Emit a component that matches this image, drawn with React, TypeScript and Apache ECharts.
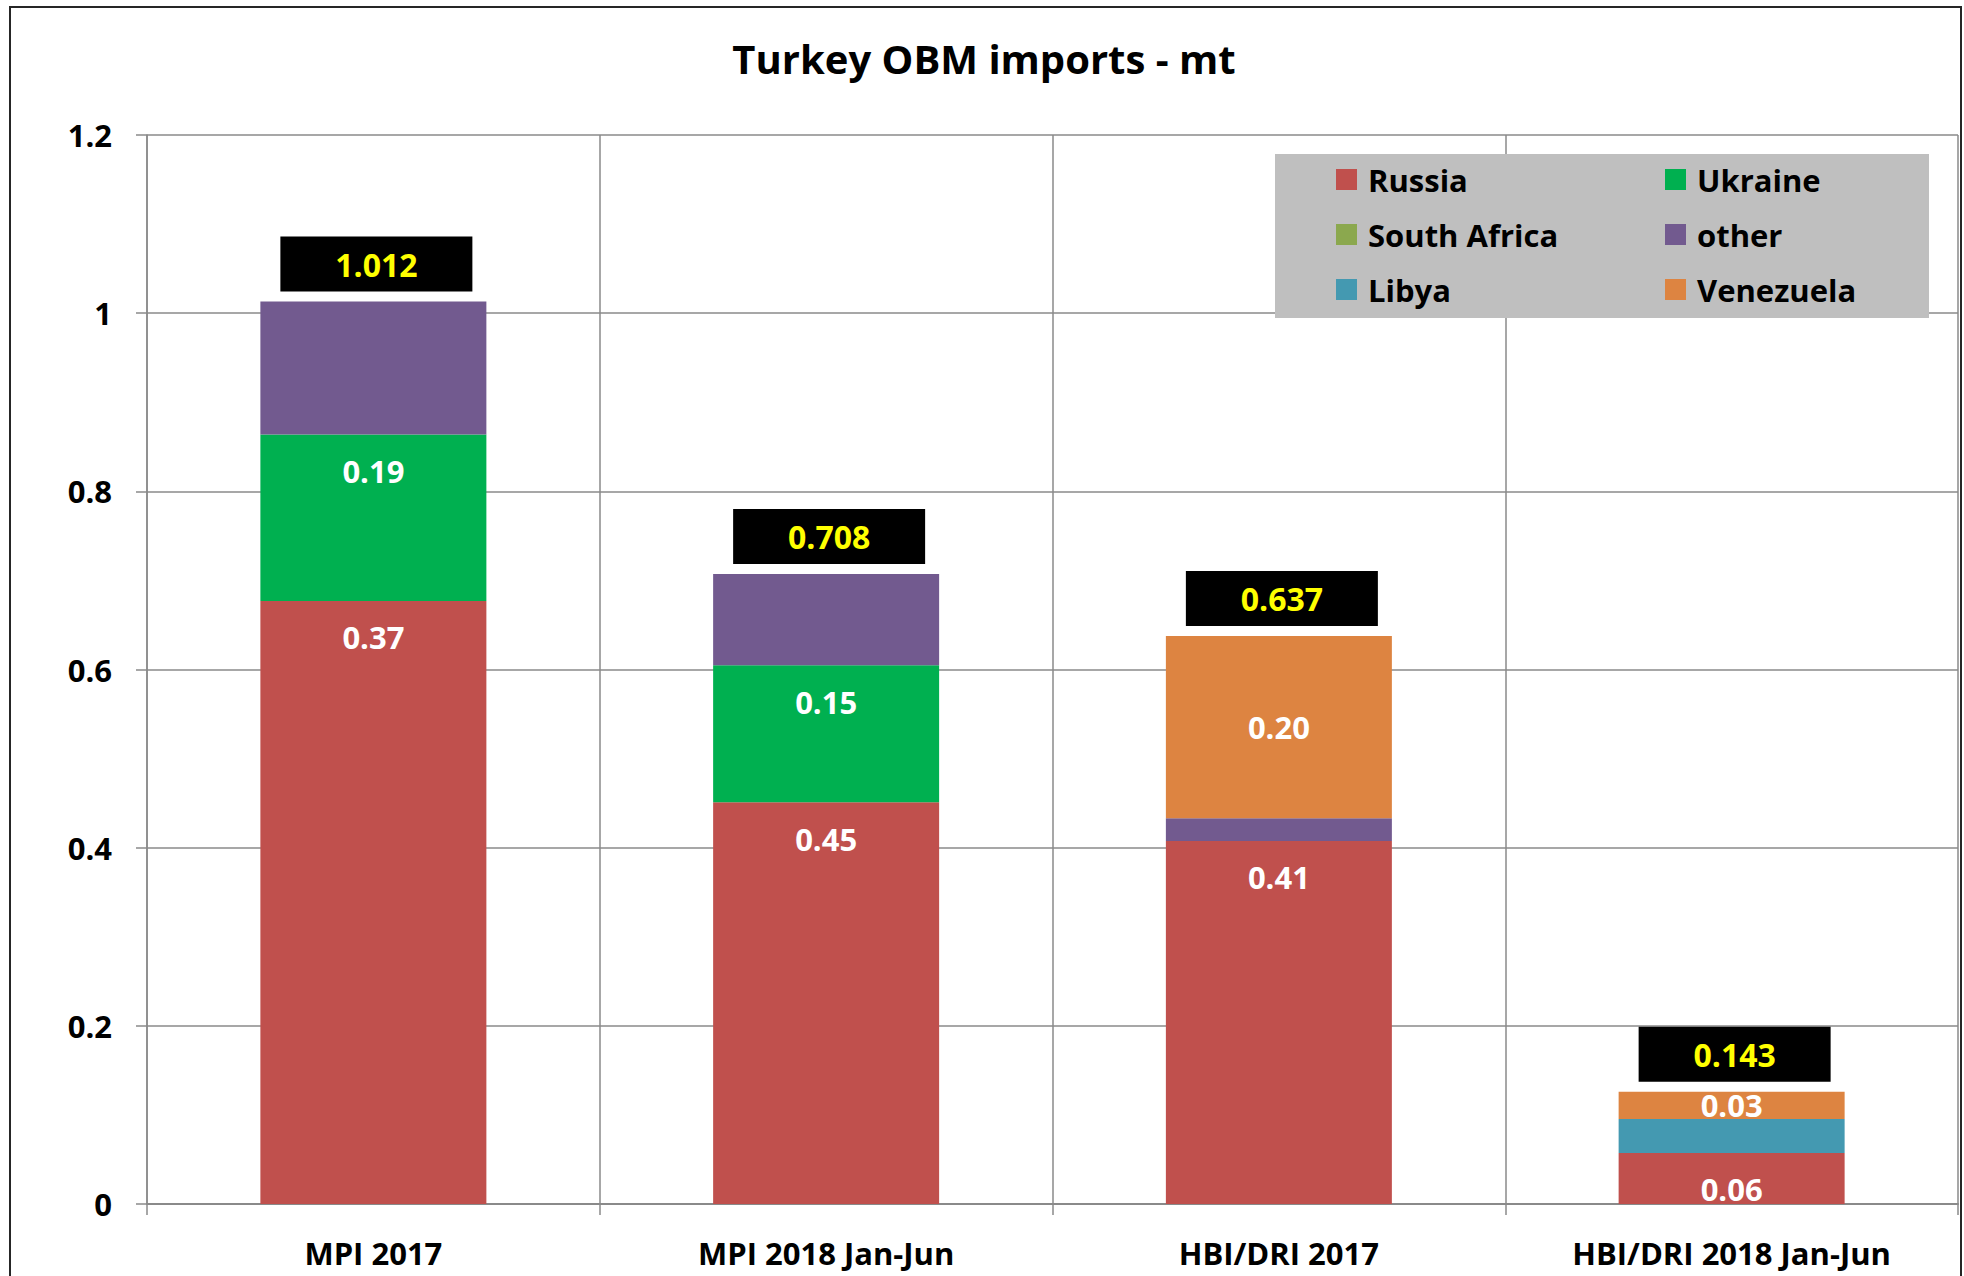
import React, { useEffect, useRef } from "react";
import * as echarts from "echarts";

const categories = ["MPI 2017", "MPI 2018 Jan-Jun", "HBI/DRI 2017", "HBI/DRI 2018 Jan-Jun"];
const russia = [0.677, 0.451, 0.4075, 0.0573];
const ukraine = [0.1867, 0.1537, 0, 0];
const southAfrica = [0, 0, 0, 0];
const other = [0.1493, 0.1025, 0.0256, 0];
const libya = [0, 0, 0, 0.0381];
const venezuela = [0, 0, 0.2045, 0.0307];
const russiaLabels = ["0.37", "0.45", "0.41", "0.06"];
const ukraineLabels = ["0.19", "0.15", "", ""];
const venezuelaLabels = ["", "", "0.20", "0.03"];
const totalLabels = ["1.012", "0.708", "0.637", "0.143"];
const yTicks = [0, 0.2, 0.4, 0.6, 0.8, 1, 1.2];

const FONT = "'Open Sans', 'DejaVu Sans', sans-serif";
const BAR_W = 226;

export default function App() {
  const ref = useRef<HTMLDivElement>(null);
  useEffect(() => {
    if (!ref.current) return;
    const chart = echarts.init(ref.current, null, { renderer: "svg" });
    const totals = categories.map(
      (_, i) => russia[i] + ukraine[i] + southAfrica[i] + other[i] + libya[i] + venezuela[i]
    );
    const segLabel = (labels: string[], position: string, distance = 21) => ({
      show: true,
      position,
      distance,
      formatter: (p: any) => labels[p.dataIndex] || "",
      color: "#ffffff",
      fontSize: 31,
      lineHeight: 31,
      fontWeight: "bold",
      fontFamily: FONT,
    });
    const mk = (name: string, data: number[], color: string, label?: any) => ({
      name,
      type: "bar",
      stack: "s",
      barWidth: BAR_W,
      barGap: "-100%",
      data,
      itemStyle: { color },
      label: label || { show: false },
      emphasis: { disabled: true },
    });
    const legendText = {
      color: "#000",
      fontSize: 31,
      lineHeight: 35,
      fontWeight: "bold",
      fontFamily: FONT,
      padding: [0, 0, 0, 6],
    };
    chart.setOption({
      animation: false,
      backgroundColor: "#ffffff",
      title: {
        text: "Turkey OBM imports - mt",
        left: 984,
        textAlign: "center",
        top: 38,
        padding: 0,
        textStyle: { fontSize: 40, lineHeight: 40, fontWeight: "bold", color: "#000", fontFamily: FONT },
      },
      grid: { left: 147, right: 6, top: 135, bottom: 72, containLabel: false },
      legend: [
        {
          data: ["Russia", "South Africa", "Libya"],
          orient: "vertical",
          left: 1336,
          top: 162,
          padding: 0,
          itemGap: 20,
          itemWidth: 21,
          itemHeight: 21,
          icon: "rect",
          z: 20,
          textStyle: legendText,
          selectedMode: false,
        },
        {
          data: ["Ukraine", "other", "Venezuela"],
          orient: "vertical",
          left: 1665,
          top: 162,
          padding: 0,
          itemGap: 20,
          itemWidth: 21,
          itemHeight: 21,
          icon: "rect",
          z: 20,
          textStyle: legendText,
          selectedMode: false,
        },
      ],
      graphic: [
        {
          type: "rect",
          z: 10,
          shape: { x: 1275, y: 154, width: 654, height: 164 },
          style: { fill: "#BFBFBF" },
        },
        {
          type: "rect",
          z: 30,
          shape: { x: 10, y: 7, width: 1951, height: 1320 },
          style: { fill: "none", stroke: "#262626", lineWidth: 2 },
        },
      ],
      xAxis: {
        type: "category",
        data: categories,
        axisLine: { show: true, lineStyle: { color: "#8a8a8a", width: 2 } },
        axisTick: { show: true, length: 11, inside: false, lineStyle: { color: "#8a8a8a", width: 1.5 } },
        splitLine: { show: true, interval: 0, lineStyle: { color: "#8a8a8a", width: 1.5 } },
        axisLabel: {
          interval: 0,
          margin: 33,
          color: "#000",
          fontSize: 31,
          lineHeight: 31,
          fontWeight: "bold",
          fontFamily: FONT,
        },
      },
      yAxis: {
        type: "value",
        min: yTicks[0],
        max: yTicks[yTicks.length - 1],
        interval: 0.2,
        axisLine: { show: true, lineStyle: { color: "#8a8a8a", width: 1.5 } },
        axisTick: { show: true, length: 11, inside: false, lineStyle: { color: "#8a8a8a", width: 1.5 } },
        splitLine: { show: true, lineStyle: { color: "#8a8a8a", width: 1.5 } },
        axisLabel: {
          margin: 35,
          color: "#000",
          fontSize: 31,
          fontWeight: "bold",
          fontFamily: FONT,
          formatter: (v: number) => String(Math.round(v * 10) / 10),
        },
      },
      series: [
        mk("Russia", russia, "#C0504D", segLabel(russiaLabels, "insideTop")),
        mk("Ukraine", ukraine, "#00B050", segLabel(ukraineLabels, "insideTop")),
        mk("South Africa", southAfrica, "#8BA84E"),
        mk("other", other, "#725A8F"),
        mk("Libya", libya, "#4499B1"),
        mk("Venezuela", venezuela, "#DD8441", segLabel(venezuelaLabels, "inside", 0)),
        {
          name: "Total",
          type: "bar",
          barWidth: BAR_W,
          barGap: "-100%",
          data: totals,
          silent: true,
          z: 5,
          itemStyle: { color: "rgba(0,0,0,0)" },
          emphasis: { disabled: true },
          label: {
            show: true,
            position: "top",
            distance: 10,
            offset: [3, 0],
            formatter: (p: any) => totalLabels[p.dataIndex],
            backgroundColor: "#000000",
            color: "#FFFF00",
            fontSize: 32,
            fontWeight: "bold",
            fontFamily: FONT,
            width: 192,
            height: 55,
            lineHeight: 55,
            align: "center",
            padding: 0,
          },
        },
      ],
    });
    return () => chart.dispose();
  }, []);
  return (
    <div
      ref={ref}
      style={{ position: "fixed", left: 0, top: 0, width: 1964, height: 1276, background: "#fff" }}
    />
  );
}
